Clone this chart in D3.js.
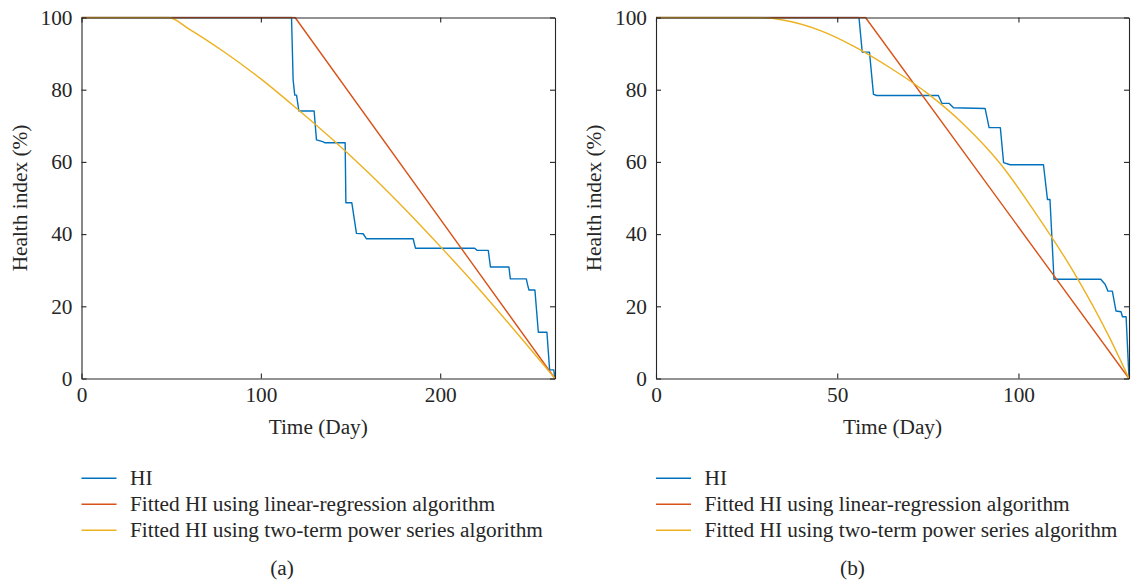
<!DOCTYPE html>
<html>
<head>
<meta charset="utf-8">
<script src="https://cdn.jsdelivr.net/npm/d3@7"></script>
<style>
  html, body { margin: 0; padding: 0; background: #fff; }
  svg { display: block; }
  text { font-family: "Liberation Serif", "Times New Roman", serif; fill: #262626; }
</style>
</head>
<body>
<svg id="chart" width="1135" height="585"></svg>
<script>
// ---------- data ----------
const yTicks = [0, 20, 40, 60, 80, 100];
const xTicksA = [0, 100, 200];
const xTicksB = [0, 50, 100];
const xMaxA = 264;
const xMaxB = 130.5;

const seriesNames = ["HI", "Fitted HI using linear-regression algorithm", "Fitted HI using two-term power series algorithm"];
const seriesColors = ["#0072BD", "#D95319", "#EDB120"];
const panelLabels = ["(a)", "(b)"];
const xLabel = "Time (Day)";
const yLabel = "Health index (%)";

// Panel (a)
const hiA_days = [0, 117.1, 118.0, 118.9, 119.9, 121.2, 129.7, 131.0, 134.5, 135.8, 147.0, 147.4, 150.7, 153.3, 157.0, 158.9, 184.9, 186.2, 219.2, 220.5, 226.8, 228.0, 238.3, 239.1, 248.0, 248.7, 249.5, 252.8, 254.7, 259.5, 261.0, 263.3, 264.0];
const hiA_vals = [100, 100, 82.7, 78.5, 78.5, 74.1, 74.1, 66.1, 65.6, 65.3, 65.3, 48.7, 48.7, 40.2, 40.1, 38.7, 38.7, 36.1, 36.1, 35.5, 35.5, 30.9, 30.9, 27.6, 27.6, 26.0, 24.5, 24.5, 12.8, 12.8, 2.4, 2.4, 0];
const linA_days = [0, 119.1, 264];
const linA_vals = [100, 100, 0];
const powA_days = [0, 48.5, 60, 80, 100, 120, 140, 160, 180, 200, 220, 240, 264];
const powA_vals = [100, 100, 96.8, 90.3, 83.0, 74.8, 66.2, 57.0, 47.1, 36.6, 25.7, 14.2, 0];

// Panel (b)
const hiB_days = [0, 56.0, 56.9, 58.9, 60.0, 60.9, 77.9, 78.9, 80.9, 82.1, 90.8, 91.9, 95.0, 95.9, 97.7, 106.9, 108.0, 108.7, 109.8, 122.7, 123.9, 124.7, 125.9, 126.9, 128.3, 128.7, 129.7, 130.5];
const hiB_vals = [100, 100, 90.4, 90.4, 78.7, 78.4, 78.4, 76.2, 76.2, 75.0, 74.8, 69.5, 69.5, 59.8, 59.2, 59.2, 49.6, 49.6, 27.5, 27.5, 26.1, 24.2, 24.2, 18.7, 18.5, 17.1, 17.1, 0];
const linB_days = [0, 57.8, 130.5];
const linB_vals = [100, 100, 0];
const powB_days = [0, 27.3, 35, 45, 55, 65, 75, 85, 95, 105, 115, 125, 130.5];
const powB_vals = [100, 100, 99.3, 96.5, 91.8, 85.8, 78.9, 70.3, 59.5, 45.4, 29.9, 11.6, 0];

// ---------- drawing ----------
const svg = d3.select("#chart");
const FONT = 21.3;
const plotTop = 17.5, plotBottom = 378.5;

const panels = [
  { left: 81.5, right: 555, xmax: xMaxA, xticks: xTicksA, capX: 282,
    series: [[hiA_days, hiA_vals], [linA_days, linA_vals], [powA_days, powA_vals]] },
  { left: 656, right: 1129, xmax: xMaxB, xticks: xTicksB, capX: 852.5,
    series: [[hiB_days, hiB_vals], [linB_days, linB_vals], [powB_days, powB_vals]] }
];

panels.forEach((p, pi) => {
  const x = d3.scaleLinear().domain([0, p.xmax]).range([p.left, p.right]);
  const y = d3.scaleLinear().domain([0, 100]).range([plotBottom, plotTop]);
  const g = svg.append("g");

  const clipId = "clip" + pi;
  svg.append("clipPath").attr("id", clipId)
    .append("rect").attr("x", p.left).attr("y", plotTop - 1)
    .attr("width", p.right - p.left).attr("height", plotBottom - plotTop + 2);

  // lines
  const curves = [d3.curveLinear, d3.curveLinear, d3.curveMonotoneX];
  p.series.forEach((s, si) => {
    const pts = s[0].map((d, i) => [d, s[1][i]]);
    const line = d3.line().x(d => x(d[0])).y(d => y(d[1])).curve(curves[si]);
    g.append("path").attr("d", line(pts))
      .attr("fill", "none").attr("stroke", seriesColors[si])
      .attr("stroke-width", 1.4).attr("stroke-linejoin", "round")
      .attr("clip-path", `url(#${clipId})`);
  });

  // axes (ticks inward, box)
  const styleAxis = sel => {
    sel.selectAll(".domain").attr("stroke", "#262626").attr("stroke-width", 1.1);
    sel.selectAll(".tick line").attr("stroke", "#262626").attr("stroke-width", 1.1);
    sel.selectAll("text").attr("font-size", FONT).attr("font-family", '"Liberation Serif", serif').attr("fill", "#262626");
  };
  const xb = g.append("g").attr("transform", `translate(0,${plotBottom})`)
    .call(d3.axisBottom(x).tickValues(p.xticks).tickSizeInner(-5).tickSizeOuter(0).tickPadding(8).tickFormat(d3.format("d")));
  styleAxis(xb);
  const xt = g.append("g").attr("transform", `translate(0,${plotTop})`)
    .call(d3.axisTop(x).tickValues(p.xticks).tickSizeInner(-5).tickSizeOuter(0).tickFormat(""));
  styleAxis(xt);
  const yl = g.append("g").attr("transform", `translate(${p.left},0)`)
    .call(d3.axisLeft(y).tickValues(yTicks).tickSizeInner(-5).tickSizeOuter(0).tickPadding(9).tickFormat(d3.format("d")));
  styleAxis(yl);
  const yr = g.append("g").attr("transform", `translate(${p.right},0)`)
    .call(d3.axisRight(y).tickValues(yTicks).tickSizeInner(-5).tickSizeOuter(0).tickFormat(""));
  styleAxis(yr);

  // axis labels
  g.append("text").attr("x", (p.left + p.right) / 2).attr("y", 434)
    .attr("text-anchor", "middle").attr("font-size", FONT).text(xLabel);
  g.append("text").attr("transform", `translate(${p.left - 55},${(plotTop + plotBottom) / 2}) rotate(-90)`)
    .attr("text-anchor", "middle").attr("font-size", FONT).text(yLabel);

  // legend
  const rows = [478.3, 504.3, 530.3];
  seriesNames.forEach((name, si) => {
    g.append("line").attr("x1", p.left).attr("x2", p.left + 35)
      .attr("y1", rows[si]).attr("y2", rows[si])
      .attr("stroke", seriesColors[si]).attr("stroke-width", 1.6);
    g.append("text").attr("x", p.left + 48.5).attr("y", rows[si] + 6.2)
      .attr("font-size", FONT).text(name);
  });

  // caption
  g.append("text").attr("x", p.capX).attr("y", 575)
    .attr("text-anchor", "middle").attr("font-size", FONT).text(panelLabels[pi]);
});
</script>
</body>
</html>
